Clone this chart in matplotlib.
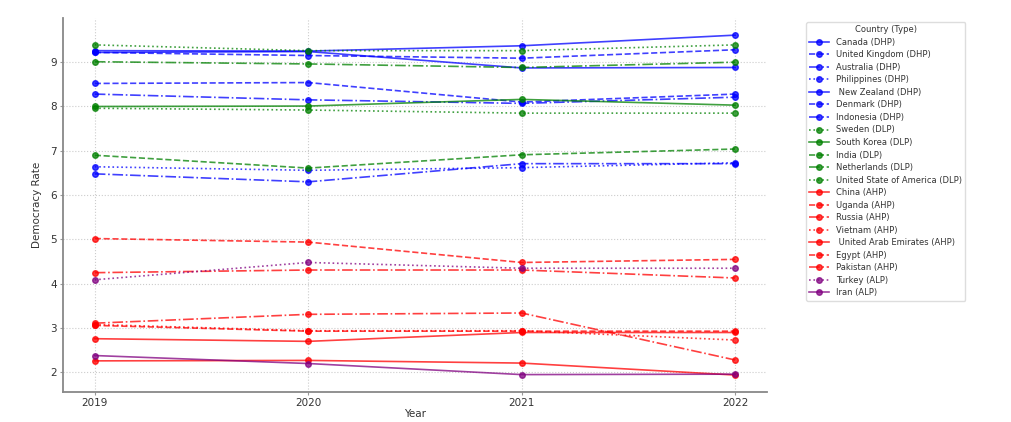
import matplotlib.pyplot as plt

# Dados
anos = [2019, 2020, 2021, 2022]

paises = ['Canada (DHP)', 'United Kingdom (DHP)', 'Australia (DHP)', 'Philippines (DHP)',
          ' New Zealand (DHP)', 'Denmark (DHP)', 'Indonesia (DHP)',
          'Sweden (DLP)', 'South Korea (DLP)', 'India (DLP)', 'Netherlands (DLP)',
          'United State of America (DLP)',
          'China (AHP)', 'Uganda (AHP)', 'Russia (AHP)', 'Vietnam (AHP)',
          ' United Arab Emirates (AHP)', 'Egypt (AHP)', 'Pakistan (AHP)',
          'Turkey (ALP)', 'Iran (ALP)']

valores = [
    [9.22, 9.24, 8.87, 8.88],   # Canada
    [8.52, 8.54, 8.10, 8.28],   # UK
    [8.28, 8.15, 8.07, 8.21],   # Australia
    [6.64, 6.56, 6.62, 6.73],   # Philippines
    [9.26, 9.25, 9.37, 9.61],   # New Zealand
    [9.22, 9.15, 9.09, 9.28],   # Denmark
    [6.48, 6.30, 6.71, 6.71],   # Indonesia
    [9.39, 9.26, 9.26, 9.39],   # Sweden
    [8.00, 8.01, 8.16, 8.03],   # South Korea
    [6.90, 6.61, 6.91, 7.04],   # India
    [9.01, 8.96, 8.88, 9.00],   # Netherlands
    [7.96, 7.92, 7.85, 7.85],   # USA
    [2.26, 2.27, 2.21, 1.94],   # China
    [5.02, 4.94, 4.48, 4.55],   # Uganda
    [3.11, 3.31, 3.34, 2.28],   # Russia
    [3.08, 2.94, 2.94, 2.73],   # Vietnam
    [2.76, 2.70, 2.90, 2.90],   # UAE
    [3.06, 2.93, 2.93, 2.93],   # Egypt
    [4.25, 4.31, 4.31, 4.13],   # Pakistan
    [4.09, 4.48, 4.35, 4.35],   # Turkey
    [2.38, 2.20, 1.95, 1.96],   # Iran
]

cores_tipo = {'DHP': 'blue', 'DLP': 'green', 'AHP': 'red', 'ALP': 'purple'}
estilos = ['-', '--', '-.', ':']

fig = plt.figure(figsize=(10.12, 4.22), dpi=100)
ax = fig.add_axes([0.062, 0.071, 0.696, 0.886])

for i, (pais, v) in enumerate(zip(paises, valores)):
    tipo = pais.strip()[-4:-1]
    ax.plot(anos, v, marker='o', markersize=4, linewidth=1.2,
            linestyle=estilos[i % 4], color=cores_tipo[tipo], alpha=0.75, label=pais)

ax.set_xticks(anos)
ax.set_yticks(range(2, 10))
ax.set_xlabel('Year', fontsize=7.5, color='#333333', labelpad=1)
ax.set_ylabel('Democracy Rate', fontsize=7.5, color='#333333', labelpad=6)
ax.tick_params(labelsize=7.5, colors='#333333', length=2, pad=2, color='#999999')
ax.grid(True, linestyle=':', color='#cccccc', linewidth=0.8)
for s in ['top', 'right']:
    ax.spines[s].set_visible(False)
for s in ['left', 'bottom']:
    ax.spines[s].set_color('#888888')
    ax.spines[s].set_linewidth(1.3)

leg = ax.legend(title='Country (Type)', loc='upper left', bbox_to_anchor=(1.055, 0.99),
                borderaxespad=0, fontsize=6.05, title_fontsize=6.05, labelspacing=0.42,
                handlelength=2.4, framealpha=1, edgecolor='#dddddd')
for t in leg.get_texts():
    t.set_color('#333333')
leg.get_title().set_color('#333333')

fig.savefig('out.png', dpi=100)
